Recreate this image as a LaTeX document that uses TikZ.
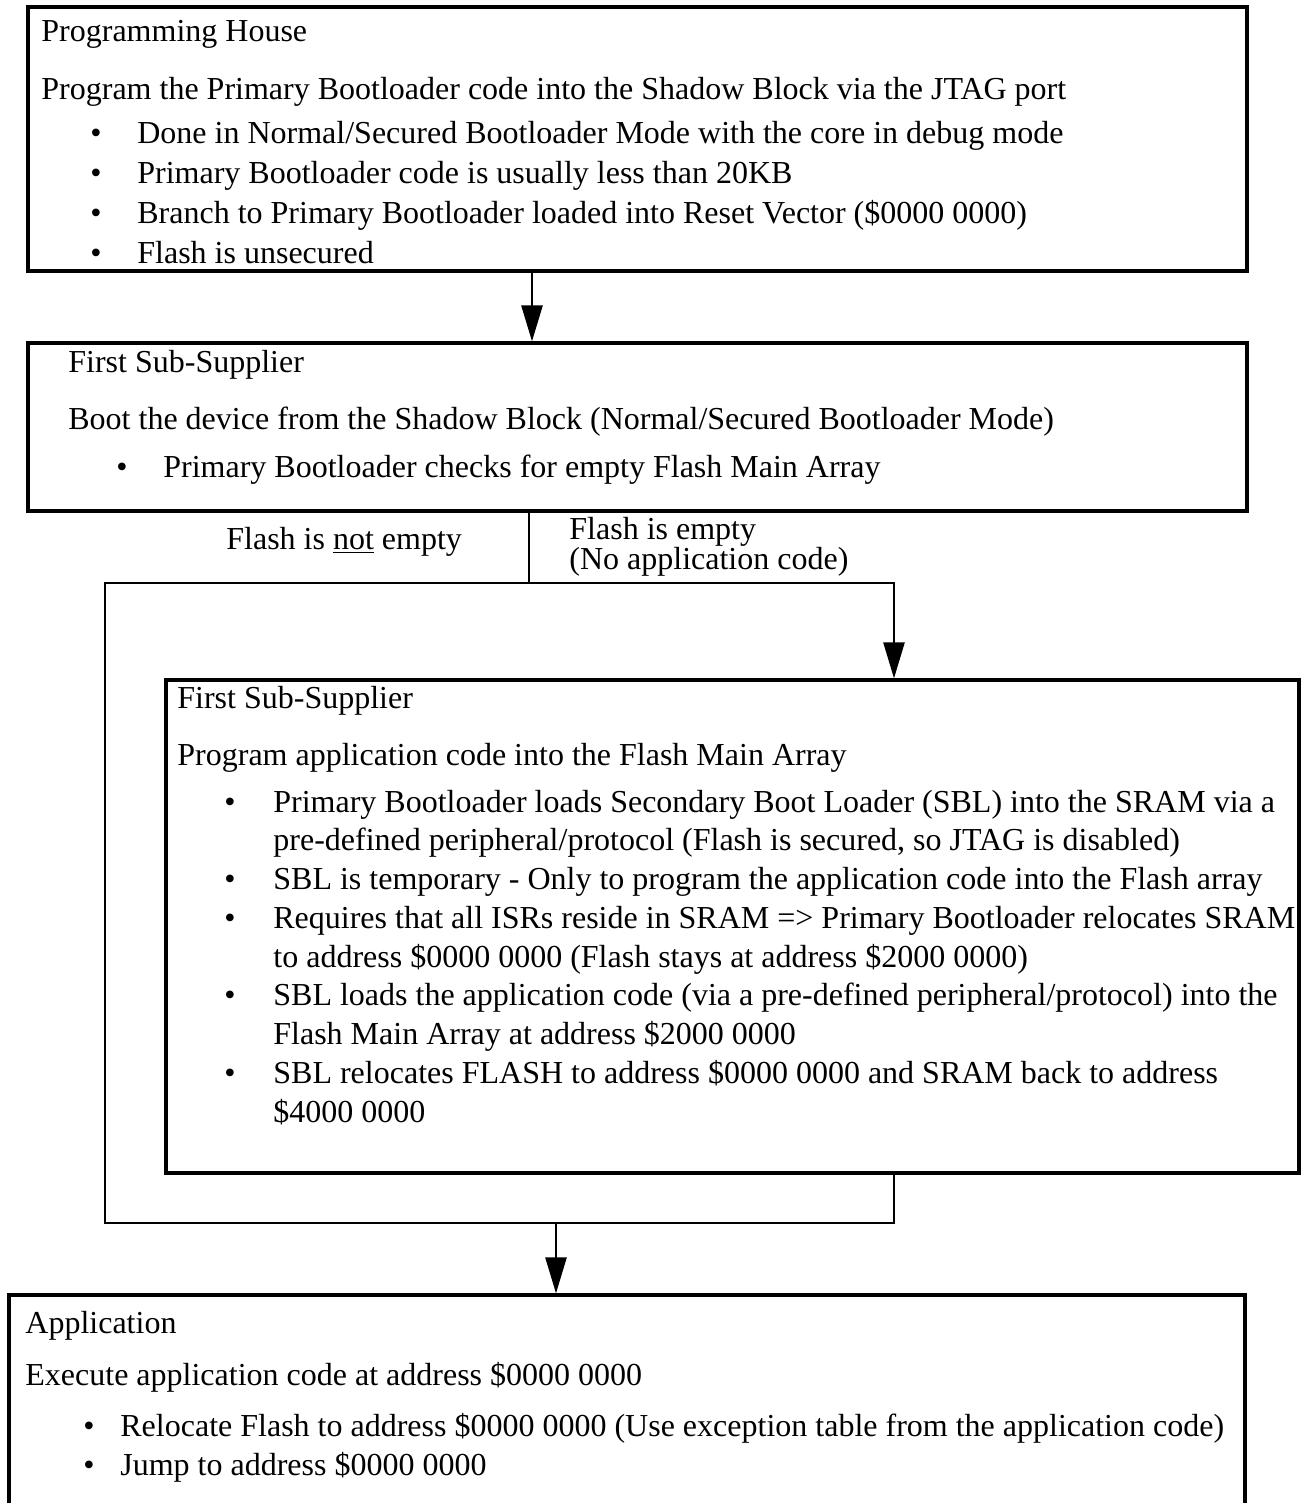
\documentclass[tikz,border=0pt]{standalone}
\usepackage{fontspec}
\setmainfont{Liberation Serif}
\usetikzlibrary{arrows.meta,fit}

\tikzset{
  box/.style={draw,line width=1.6pt,inner sep=0pt},
  txt/.style={anchor=base west,inner sep=0pt},
  link/.style={line width=1.25pt},
  arr/.style={link,-{Triangle[length=18pt,width=10.5pt]}},
}
% bullet list: first column holds the bullet
\newcommand{\bl}{\textbullet}
\newcommand{\blist}[2]{\begin{tabular}[t]{@{}p{#1}@{}l@{}}#2\end{tabular}}

\begin{document}
\begin{tikzpicture}[x=0.5pt,y=-0.5pt,font=\fontsize{16pt}{19.5pt}\selectfont]
  \path[use as bounding box] (0,0) rectangle (1301,1503);
  \clip (0,0) rectangle (1301,1503);

  % Boxes
  \node[box,fit={(28,7) (1247,271)}] (ph) {};
  \node[box,fit={(28,343) (1247,511)}] (fs) {};
  \node[box,fit={(166,680) (1299,1173)}] (pl) {};
  \node[box,fit={(9,1295) (1245,1540)}] (app) {};

  % Programming House
  \node[txt] (phT) at (41,42) {Programming House};
  \node[txt] (phS) at (41,100) {Program the Primary Bootloader code into the Shadow Block via the JTAG port};
  \node[txt,font=\fontsize{16pt}{19.85pt}\selectfont] (phL) at (90,144) {\blist{23.5pt}{%
    \bl & Done in Normal/Secured Bootloader Mode with the core in debug mode\\
    \bl & Primary Bootloader code is usually less than 20KB\\
    \bl & Branch to Primary Bootloader loaded into Reset Vector (\$0000 0000)\\
    \bl & Flash is unsecured}};

  % First Sub-Supplier (boot)
  \node[txt] (fsT) at (68,372) {First Sub-Supplier};
  \node[txt] (fsS) at (68,429) {Boot the device from the Shadow Block (Normal/Secured Bootloader Mode)};
  \node[txt] (fsL) at (116,477) {\blist{23.5pt}{%
    \bl & Primary Bootloader checks for empty Flash Main Array}};

  % Branch labels
  \node[txt] (notE) at (226,549) {Flash is \underline{not} empty};
  \node[txt,font=\fontsize{16pt}{14.5pt}\selectfont] (isE) at (569,539) {\begin{tabular}[t]{@{}l@{}}Flash is empty\\(No application code)\end{tabular}};

  % First Sub-Supplier (program)
  \node[txt] (plT) at (177,708) {First Sub-Supplier};
  \node[txt] (plS) at (177,765) {Program application code into the Flash Main Array};
  \node[txt,font=\fontsize{16pt}{19.375pt}\selectfont] (plL) at (224,812) {\blist{24.5pt}{%
    \bl & Primary Bootloader loads Secondary Boot Loader (SBL) into the SRAM via a\\
        & pre-defined peripheral/protocol (Flash is secured, so JTAG is disabled)\\
    \bl & SBL is temporary - Only to program the application code into the Flash array\\
    \bl & Requires that all ISRs reside in SRAM => Primary Bootloader relocates SRAM\\
        & to address \$0000 0000 (Flash stays at address \$2000 0000)\\
    \bl & SBL loads the application code (via a pre-defined peripheral/protocol) into the\\
        & Flash Main Array at address \$2000 0000\\
    \bl & SBL relocates FLASH to address \$0000 0000 and SRAM back to address\\
        & \$4000 0000}};

  % Application
  \node[txt] (appT) at (25,1333) {Application};
  \node[txt] (appS) at (25,1385) {Execute application code at address \$0000 0000};
  \node[txt] (appL) at (83,1436) {\blist{18.5pt}{%
    \bl & Relocate Flash to address \$0000 0000 (Use exception table from the application code)\\
    \bl & Jump to address \$0000 0000}};

  % Connectors
  \coordinate (a1) at (532,0);
  \coordinate (split) at (529,584);
  \coordinate (railL) at (105,583);
  \coordinate (railR) at (894,583);
  \coordinate (joinL) at (105,1223);
  \coordinate (joinR) at (894,1223);
  \coordinate (a4) at (556,1223);
  \draw[arr] (a1 |- ph.south) -- (a1 |- fs.north);
  \draw[link] (split |- fs.south) -- (split);
  \draw[arr] (joinR |- pl.south) -- (joinR) -- (joinL) -- (railL) -- (railR) -- (railR |- pl.north);
  \draw[arr] (a4) -- (a4 |- app.north);
\end{tikzpicture}
\end{document}
